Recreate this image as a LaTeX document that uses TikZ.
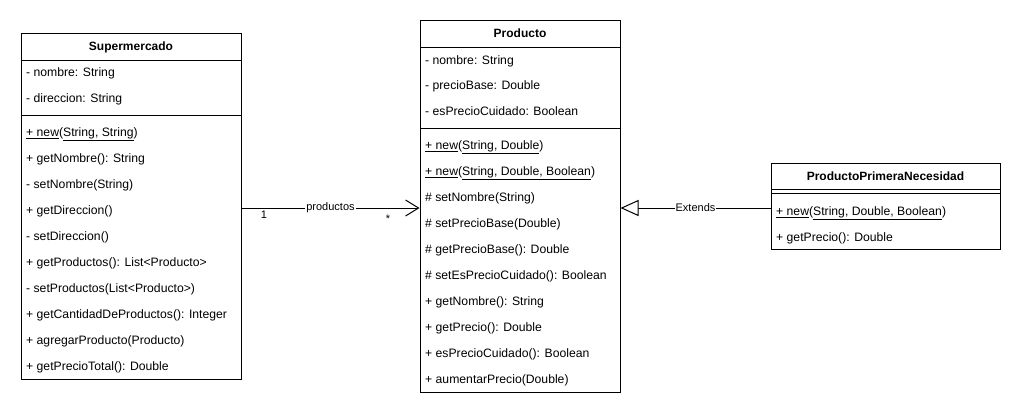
\documentclass[tikz,border=0pt]{standalone}
\usepackage{fontspec}
\setmainfont{Liberation Sans}
\usetikzlibrary{arrows.meta}
\begin{document}
\begin{tikzpicture}[x=1pt,y=-1pt,
  box/.style={draw, line width=1pt, inner sep=0pt, fill=white},
  mem/.style={anchor=west, inner sep=0pt, text height=11pt, text depth=2pt, font=\fontsize{12.2}{14}\selectfont},
  ttl/.style={inner sep=0pt, text height=11pt, text depth=2pt, font=\fontsize{12}{14}\selectfont\bfseries},
  sep/.style={line width=1pt},
  conn/.style={line width=1pt},
  lbl/.style={fill=white, inner sep=1pt, font=\fontsize{11}{13}\selectfont}]
\useasboundingbox (0,0) rectangle (1021,416);

% Supermercado
\node[box, minimum width=220pt, minimum height=346pt] (sup) at (131,206) {};
\node[ttl] (supT) at (131,46) {Supermercado};
\draw[sep] (21,60) -- (241,60);
\draw[sep] (21,115) -- (241,115);
\node[mem] (s1) at (26,72) {- nombre: String};
\node[mem] (s2) at (26,98) {- direccion: String};
\node[mem] (s3) at (26,132) {\underline{+ new}(\underline{String, String})};
\node[mem] (s4) at (26,158) {+ getNombre(): String};
\node[mem] (s5) at (26,184) {- setNombre(String)};
\node[mem] (s6) at (26,210) {+ getDireccion()};
\node[mem] (s7) at (26,236) {- setDireccion()};
\node[mem] (s8) at (26,262) {+ getProductos(): List<Producto>};
\node[mem] (s9) at (26,288) {- setProductos(List<Producto>)};
\node[mem] (s10) at (26,314) {+ getCantidadDeProductos(): Integer};
\node[mem] (s11) at (26,340) {+ agregarProducto(Producto)};
\node[mem] (s12) at (26,366) {+ getPrecioTotal(): Double};

% Producto
\node[box, minimum width=200pt, minimum height=372pt] (prod) at (520,206) {};
\node[ttl] (prodT) at (520,33) {Producto};
\draw[sep] (420,47) -- (620,47);
\draw[sep] (420,128) -- (620,128);
\node[mem] (p1) at (425,60) {- nombre: String};
\node[mem] (p2) at (425,85) {- precioBase: Double};
\node[mem] (p3) at (425,111) {- esPrecioCuidado: Boolean};
\node[mem] (p4) at (425,145) {\underline{+ new}(\underline{String, Double})};
\node[mem] (p5) at (425,171) {\underline{+ new}(\underline{String, Double, Boolean})};
\node[mem] (p6) at (425,197) {\# setNombre(String)};
\node[mem] (p7) at (425,223) {\# setPrecioBase(Double)};
\node[mem] (p8) at (425,249) {\# getPrecioBase(): Double};
\node[mem] (p9) at (425,275) {\# setEsPrecioCuidado(): Boolean};
\node[mem] (p10) at (425,301) {+ getNombre(): String};
\node[mem] (p11) at (425,327) {+ getPrecio(): Double};
\node[mem] (p12) at (425,353) {+ esPrecioCuidado(): Boolean};
\node[mem] (p13) at (425,379) {+ aumentarPrecio(Double)};

% ProductoPrimeraNecesidad
\node[box, minimum width=229pt, minimum height=86pt] (ppn) at (885.5,206) {};
\node[ttl] (ppnT) at (885.5,176) {ProductoPrimeraNecesidad};
\draw[sep] (771,189) -- (1000,189);
\draw[sep] (771,193) -- (1000,193);
\node[mem] (n1) at (776,211) {\underline{+ new}(\underline{String, Double, Boolean})};
\node[mem] (n2) at (776,237) {+ getPrecio(): Double};

% connectors
\draw[conn, -{Straight Barb[length=13pt,width=16pt,line join=miter]}]
  ([yshift=-2pt]sup.east) -- node[lbl] (lp) {productos} ([yshift=-2pt]prod.west);
\node[lbl, fill=none] (m1) at (264,215) {1};
\node[lbl, fill=none] (m2) at (388,219) {*};
\draw[conn, -{Triangle[open,fill=white,length=18pt,width=16pt]}]
  ([yshift=-2pt]ppn.west) -- node[lbl] (le) {Extends} ([yshift=-2pt]prod.east);
\end{tikzpicture}
\end{document}
